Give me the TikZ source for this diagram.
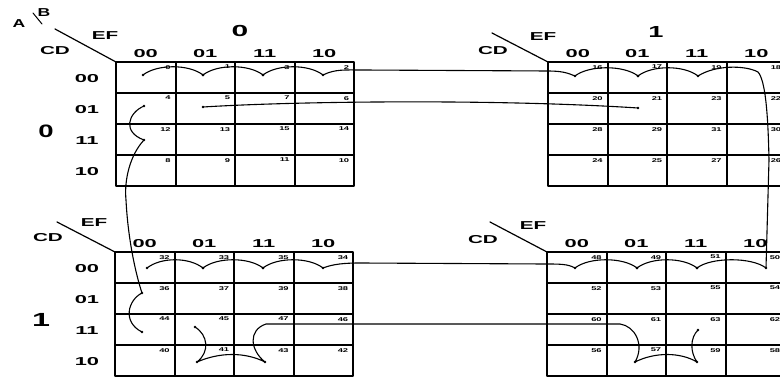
\documentclass[tikz,border=0pt]{standalone}
\usepackage{fontspec}
\setmainfont{Liberation Sans}
\begin{document}
\begin{tikzpicture}[x=1pt,y=-1pt,line join=round,line cap=round,
	cellline/.style={line width=2pt},
	lbl/.style={font=\fontsize{11.5}{11.5}\selectfont\bfseries,inner sep=1pt,xscale=1.9},
	var/.style={font=\fontsize{11.5}{11.5}\selectfont\bfseries,inner sep=1pt,xscale=1.8},
	num/.style={font=\fontsize{5.5}{5.5}\selectfont\bfseries,inner sep=0pt,anchor=north east,xscale=1.7},
	big/.style={font=\fontsize{16}{16}\selectfont\bfseries,inner sep=0pt,xscale=1.7},
	loop/.style={line width=1.1pt},
	dot/.style={circle,fill,inner sep=0pt,minimum size=2.6pt}]
	\useasboundingbox (0,0) rectangle (780,377);
	% A and B
	\node[var,xscale=0.85] (a) at (19,24) {A};
	\node[var,xscale=0.85] (b) at (44,13) {B};
	\draw[line width=1pt] (33,13)--(42,24);
	% the four maps, AB = 00, 01, 10, 11
	\foreach \ox/\oy/\base/\efx/\efy/\cdx/\cdy/\dx/\dy in
		{116/62/0/-11/-26/-61/-11/-61/-33, 548/62/16/-5/-25/-55/-11/-56/-29,
		 115/252/32/-21/-29/-67/-14/-58/-30, 547/252/48/-14/-26/-64/-12/-57/-30}{
		\draw[cellline] (\ox,\oy) rectangle +(238,124);
		\foreach \i/\j in {60/31,119/62,179/93}{
			\draw[cellline] (\ox+\i,\oy)--+(0,124);
			\draw[cellline] (\ox,\oy+\j)--+(238,0);
		}
		\draw[line width=1.2pt] (\ox+\dx,\oy+\dy)--(\ox,\oy);
		\node[var] (ef\base) at (\ox+\efx,\oy+\efy) {EF};
		\node[var] (cd\base) at (\ox+\cdx,\oy+\cdy) {CD};
		\foreach \c/\v/\g in {0/0/00,1/1/01,2/3/11,3/2/10}{
			\node[lbl,anchor=south] (h\base-\c) at (\ox+\c*59.5+29.75,\oy-3) {\g};
			\foreach \r/\w in {0/0,1/1,2/3,3/2}{
				\pgfmathtruncatemacro\n{\base+4*\w+\v}
				\node[num] (c\n) at (\ox+\c*59.5+55,\oy+\r*31+3) {\n};
			}
		}
	}
	% row labels of CD
	\foreach \oy/\k in {62/t,252/b}
		\foreach \r/\g in {0/00,1/01,2/11,3/10}
			\node[lbl] (r\k\r) at (87,\oy+\r*31+17) {\g};
	% values of A and B
	\node[big,xscale=1.1] (b0) at (240,31) {0};
	\node[big] (b1) at (656,32) {1};
	\node[big,font=\fontsize{18}{18}\selectfont\bfseries,xscale=0.9] (a0) at (46,131) {0};
	\node[big,font=\fontsize{19}{19}\selectfont\bfseries] (a1) at (41,320) {1};
	% row 00 of all four maps
	\foreach \xa/\xb/\yy in {143/203/75, 203/263/75, 263/323/75, 575/638/76, 638/698/76,
		147/203/268, 203/263/268, 263/323/268, 575/637/268, 637/697/268, 697/766/268}{
		\draw[loop] (\xa,\yy) .. controls (\xa+14,\yy-11) and (\xb-14,\yy-11) .. (\xb,\yy);
		\node[dot] at (\xa,\yy) {};
		\node[dot] at (\xb,\yy) {};
	}
	\coordinate (p2) at (323,75);
	\coordinate (p16) at (575,76);
	\coordinate (p19) at (698,76);
	\coordinate (p50) at (766,268);
	\coordinate (p48) at (575,268);
	\coordinate (p34) at (323,268);
	\draw[loop] (p2) .. controls (335,69) and (345,70) .. (362,70)--(548,71) .. controls (562,71) and (568,73) .. (p16);
	\draw[loop] (p19) .. controls (715,65) and (745,65) .. (758,72) .. controls (765,80) and (768,110) .. (769,160)--(p50);
	\draw[loop] (p48) .. controls (568,264) and (560,264) .. (545,264)--(360,263) .. controls (345,263) and (333,264) .. (p34);
	% cells 5 and 21
	\node[dot] (d5) at (203,107) {};
	\node[dot] (d21) at (638,108) {};
	\draw[loop] (d5.center) .. controls (300,101) and (500,99) .. (d21.center);
	% column 00, cells 4, 12, 36, 44
	\node[dot] (d4) at (144,106) {};
	\node[dot] (d12) at (144,140) {};
	\node[dot] (d36) at (142,293) {};
	\node[dot] (d44) at (142,332) {};
	\draw[loop] (d4.center) .. controls (128,113) and (122,132) .. (d12.center)
		.. controls (130,155) and (124,180) .. (126,200)
		.. controls (128,240) and (136,275) .. (d36.center)
		.. controls (128,300) and (122,322) .. (d44.center);
	% cells 45, 41, 43, 47, 61, 57, 59, 63
	\node[dot] (d45) at (195,327) {};
	\node[dot] (d41) at (197,362) {};
	\node[dot] (d43) at (265,362) {};
	\node[dot] (d57) at (635,362) {};
	\node[dot] (d59) at (697,362) {};
	\node[dot] (d63) at (698,330) {};
	\draw[loop] (d45.center) .. controls (208,335) and (210,352) .. (d41.center)
		.. controls (220,352) and (245,352) .. (d43.center)
		.. controls (250,350) and (248,330) .. (266,324)--(620,324)
		.. controls (635,326) and (645,345) .. (d57.center)
		.. controls (655,352) and (680,352) .. (d59.center)
		.. controls (690,352) and (690,338) .. (d63.center);
\end{tikzpicture}
\end{document}
